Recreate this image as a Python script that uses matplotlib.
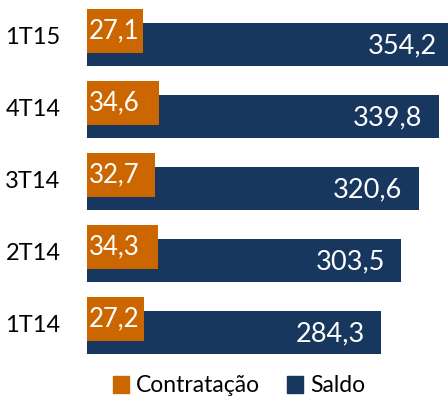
import matplotlib.pyplot as plt
import numpy as np
from matplotlib.patches import Patch

plt.rcParams['font.family'] = ['Lato', 'DejaVu Sans']

categorias = ['1T15', '4T14', '3T14', '2T14', '1T14']
contratacao = [27.1, 34.6, 32.7, 34.3, 27.2]
saldo = [354.2, 339.8, 320.6, 303.5, 284.3]

laranja = '#CC6600'
azul = '#17375E'

fig = plt.figure(figsize=(4.48, 4.01), dpi=100)
# eixo principal (Saldo) e eixo secundario (Contratacao) com escala dobrada
ax = fig.add_axes([87/448, 1 - 361.7/401, 361/448, 360/401])
ax2 = ax.twiny()

y = np.arange(len(categorias))
off = 0.094
h = 0.61

ax.barh(y + off, saldo, height=h, color=azul, zorder=1)
ax2.barh(y - off, contratacao, height=h, color=laranja, zorder=2)

ax.set_xlim(0, 348.5)
ax2.set_xlim(0, 173.6)
ax.set_ylim(4.5, -0.5)
ax2.set_ylim(4.5, -0.5)

for i, v in enumerate(saldo):
    ax.annotate(f'{v:.1f}'.replace('.', ','), (v, y[i] + off), xytext=(-12, -1),
                textcoords='offset points', ha='right', va='center',
                color='white', fontsize=19.5, annotation_clip=False)
for i, v in enumerate(contratacao):
    ax2.annotate(f'{v:.1f}'.replace('.', ','), (0, y[i] - off), xytext=(1, 0),
                 textcoords='offset points', ha='left', va='center',
                 color='white', fontsize=18.5)

ax.set_yticks(y)
ax.set_yticklabels(categorias, fontsize=17, va='center')
ax.tick_params(axis='y', length=0, pad=19)
ax.set_xticks([])
ax2.set_xticks([])
for a in (ax, ax2):
    for s in a.spines.values():
        s.set_visible(False)

handles = [Patch(color=laranja, label='Contratação'), Patch(color=azul, label='Saldo')]
fig.legend(handles=handles, loc='center', bbox_to_anchor=(239/448, 1 - 386/401),
           ncol=2, frameon=False, fontsize=16.5, handlelength=0.7, handleheight=0.7,
           handletextpad=0.3, columnspacing=1.2)

fig.savefig('out.png', dpi=100)
